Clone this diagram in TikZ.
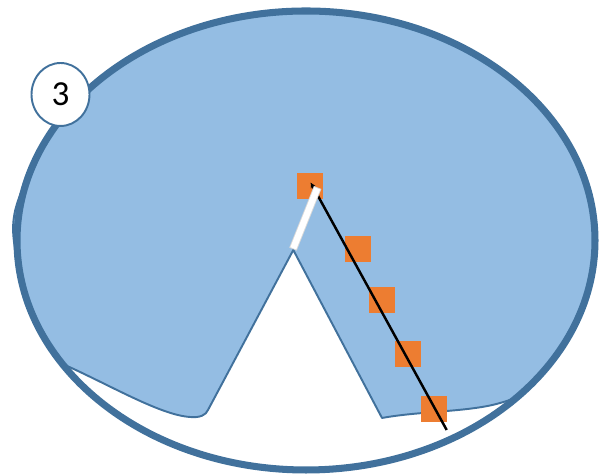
\documentclass[tikz,border=0pt]{standalone}
\usepackage{fontspec}
\newfontfamily\calfont{Carlito}
\usetikzlibrary{arrows.meta,shapes.geometric}

\definecolor{rimblue}{RGB}{65,113,156}
\definecolor{paleblue}{RGB}{148,189,227}
\definecolor{markorange}{RGB}{237,125,49}

\begin{document}
\begin{tikzpicture}[
  x=0.02cm, y=0.02cm,
  rim/.style={draw=rimblue, line width=4pt},
  region/.style={fill=paleblue, draw=rimblue, line width=1.1pt, line join=round},
  marker/.style={rectangle, fill=markorange, inner sep=0pt, minimum size=0.52cm},
  badge/.style={ellipse, draw=rimblue, fill=white, line width=1.1pt,
    minimum width=1.16cm, minimum height=1.26cm, inner sep=0pt,
    font=\calfont\fontsize{20}{24}\selectfont},
]

% Frame (1 unit = 1 px of the 599 x 475 image)
\useasboundingbox (0,0) rectangle (599,475);

% Centre of the big ellipse
\coordinate (ctr) at (306,234.5);
\coordinate (apex) at (293.3,225);

% Shaded region with the notch cut out
\draw[region] ([shift={(ctr)}]212.5:289 and 229.5) coordinate (lftEnd)
  .. controls (110,90) and (160,60) .. (190,58)
  .. controls (200,57) and (206,60) .. (208,65)
  -- (apex)
  -- (382,57)
  .. controls (420,64) and (470,63) .. (500,72)
  .. controls (515,76) and (524,81) .. ([shift={(ctr)}]-39.75:289 and 229.5) coordinate (rgtEnd)
  arc[start angle=-39.75, end angle=160, x radius=289, y radius=229.5]
  to[out=245.4, in=102.5, looseness=1.3] ([shift={(ctr)}]190:289 and 229.5)
  arc[start angle=190, end angle=212.5, x radius=289, y radius=229.5]
  -- cycle;

% Outer ellipse
\draw[rim] (ctr) ellipse[x radius=289, y radius=229.5];

% Orange markers
\node[marker] (m1) at (310.3,289.3) {};
\node[marker] (m2) at (357.7,226) {};
\node[marker] (m3) at (382,175.3) {};
\node[marker] (m4) at (408.3,121.3) {};
\node[marker] (m5) at (434.3,66.3) {};

% Black ray
\coordinate (rayStart) at (310.7,292.3);
\coordinate (rayEnd) at (446.7,45);
\draw[{Stealth[length=3pt,width=3pt]}-, line width=1.4pt] (rayStart) -- (rayEnd);

% White bar
\coordinate (barTop) at (317.3,286.7);
\coordinate (barBot) at (293.3,226.7);
\draw[black!15, line width=4.6pt, shorten <=-0.5pt, shorten >=-0.5pt] (barTop) -- (barBot);
\draw[white, line width=3.6pt] (barTop) -- (barBot);

% Number badge
\node[badge] (num) at (60.5,380.5) {3};

\end{tikzpicture}
\end{document}
